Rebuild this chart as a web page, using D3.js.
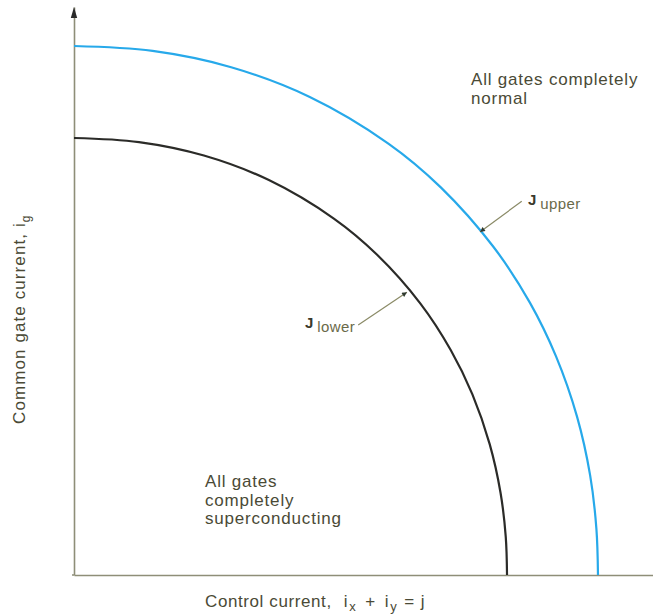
<!DOCTYPE html>
<html><head><meta charset="utf-8">
<script src="https://cdn.jsdelivr.net/npm/d3@7"></script>
<style>body{margin:0;background:#fff}</style>
</head><body>
<svg id="c" width="653" height="615"></svg>
<script>
// Data (arbitrary units)
const upperJ  = [0, 1.355, 2.710, 4.065, 5.420, 6.324, 7.227, 7.860, 8.311, 8.673, 8.899, 9.007, 9.034];
const upperIg = [9.313, 9.226, 8.939, 8.416, 7.596, 6.825, 5.784, 4.796, 3.849, 2.788, 1.753, 0.811, 0];
const lowerJ  = [0, 1.120, 2.240, 3.360, 4.480, 5.226, 5.973, 6.495, 6.869, 7.167, 7.354, 7.444, 7.466];
const lowerIg = [7.694, 7.622, 7.385, 6.953, 6.275, 5.638, 4.779, 3.962, 3.180, 2.304, 1.448, 0.670, 0];
const xDomain = [0, 10];
const yDomain = [0, 10];

const svg = d3.select("#c");
const font = "'Liberation Sans', Arial, sans-serif";
const textCol = "#4a4a36";
const axisCol = "#8e8e78";

const x = d3.scaleLinear().domain(xDomain).range([74, 654]);
const y = d3.scaleLinear().domain(yDomain).range([575, 7]);

// Axes (domain lines only)
const gx = svg.append("g").attr("transform", `translate(0,${y(0)})`)
  .call(d3.axisBottom(x).ticks(0).tickSizeOuter(0));
gx.select(".domain").attr("stroke", axisCol).attr("stroke-width", 1.6);
const gy = svg.append("g").attr("transform", `translate(${x(0)},0)`)
  .call(d3.axisLeft(y).ticks(0).tickSizeOuter(0));
gy.select(".domain").attr("stroke", axisCol).attr("stroke-width", 1.6);
svg.append("line").attr("x1", x(0) - 2).attr("x2", x(0)).attr("y1", y(0)).attr("y2", y(0))
  .attr("stroke", axisCol).attr("stroke-width", 1.6);
// arrow at top of y axis
const tip = y(yDomain[1]);
svg.append("path")
  .attr("d", `M${x(0)},${tip} L${x(0)-3.2},${tip+11} L${x(0)+3.2},${tip+11} Z`)
  .attr("fill", "#2a2a2a");

// Curves
const line = d3.line().x(d => x(d[0])).y(d => y(d[1])).curve(d3.curveCatmullRom.alpha(0.5));
svg.append("path").datum(upperJ.map((v, i) => [v, upperIg[i]]))
  .attr("d", line).attr("fill", "none").attr("stroke", "#27a9ea").attr("stroke-width", 2.2);
svg.append("path").datum(lowerJ.map((v, i) => [v, lowerIg[i]]))
  .attr("d", line).attr("fill", "none").attr("stroke", "#2b2b28").attr("stroke-width", 2.2);

// Leader lines with arrowheads
svg.append("defs").append("marker")
  .attr("id", "ah").attr("viewBox", "0 0 10 10").attr("refX", 10).attr("refY", 5)
  .attr("markerWidth", 7).attr("markerHeight", 5).attr("orient", "auto")
  .attr("markerUnits", "userSpaceOnUse")
  .append("path").attr("d", "M0,0 L10,5 L0,10 Z").attr("fill", "#2f3a30");
const leaders = [
  {from: [7.72, 6.58], to: [7.00, 6.04]},
  {from: [4.90, 4.40], to: [5.74, 4.98]}
];
leaders.forEach(l => {
  svg.append("line")
    .attr("x1", x(l.from[0])).attr("y1", y(l.from[1]))
    .attr("x2", x(l.to[0])).attr("y2", y(l.to[1]))
    .attr("stroke", "#8a8a66").attr("stroke-width", 1.2)
    .attr("marker-end", "url(#ah)");
});

// J labels
function jLabel(px, py, sub) {
  const t = svg.append("text").attr("x", px).attr("y", py)
    .attr("font-family", font).attr("fill", textCol);
  t.append("tspan").attr("font-size", 15).attr("font-weight", "bold").attr("fill", "#3a3a2c").text("J");
  t.append("tspan").attr("font-size", 15).attr("dx", 4).attr("dy", 4)
    .attr("letter-spacing", 0.4).attr("fill", "#6a6a4a").text(sub);
}
jLabel(528, 205, "upper");
jLabel(305, 328, "lower");

// Region labels
function block(px, py, lines) {
  const t = svg.append("text").attr("font-family", font).attr("font-size", 17)
    .attr("letter-spacing", 0.8).attr("fill", textCol);
  lines.forEach((s, i) => t.append("tspan").attr("x", px).attr("y", py + i * 18.5).text(s));
}
block(471, 85, ["All gates completely", "normal"]);
block(205, 487, ["All gates", "completely", "superconducting"]);

// X axis title
const xt = svg.append("text").attr("x", 205).attr("y", 607)
  .attr("font-family", font).attr("font-size", 17).attr("letter-spacing", 0.6).attr("fill", textCol);
xt.append("tspan").text("Control current,");
xt.append("tspan").attr("dx", 12).text("i");
xt.append("tspan").attr("font-size", 13).attr("dy", 4).attr("dx", 1).text("x");
xt.append("tspan").attr("dy", -4).attr("dx", 9).text("+");
xt.append("tspan").attr("dx", 9).text("i");
xt.append("tspan").attr("font-size", 13).attr("dy", 4).attr("dx", 1).text("y");
xt.append("tspan").attr("dy", -4).attr("dx", 7).text("=");
xt.append("tspan").attr("dx", 6).text("j");

// Y axis title
const yt = svg.append("text").attr("transform", "translate(25,424) rotate(-90)")
  .attr("font-family", font).attr("font-size", 17).attr("letter-spacing", 1.1).attr("fill", textCol);
yt.append("tspan").text("Common gate current, i");
yt.append("tspan").attr("font-size", 12).attr("dy", 5).text("g");
</script>
</body></html>
